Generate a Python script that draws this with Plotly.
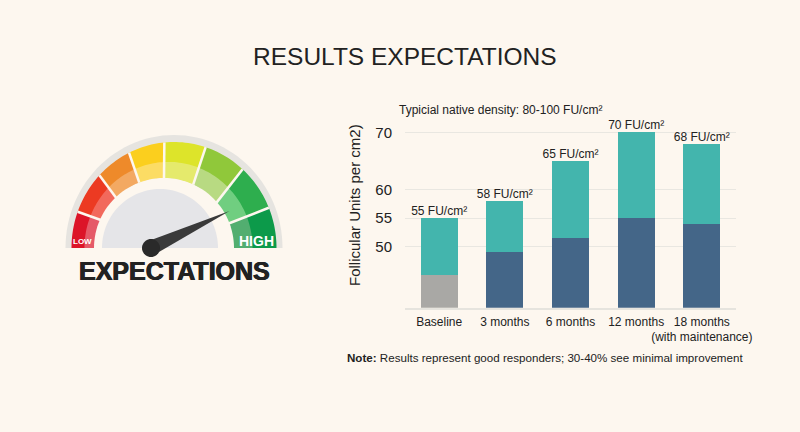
import math
import plotly.graph_objects as go

# Bar chart data
categories = ["Baseline", "3 months", "6 months", "12 months", "18 months<br>(with maintenance)"]
lower_segment = [45, 49, 51.5, 55, 54]
upper_segment = [10, 9, 13.5, 15, 14]
total_density = [55, 58, 65, 70, 68]
total_labels = ["55 FU/cm²", "58 FU/cm²", "65 FU/cm²", "70 FU/cm²", "68 FU/cm²"]
y_ticks = [50, 55, 60, 70]

# Gauge band: divider angles on the outer and inner arcs, left to right
outer_angles = [180, 160, 136.7, 116, 95.4, 72, 48, 22.3, 0]
inner_angles = [180, 156.4, 134, 111, 90, 65, 40.4, 20.5, 0]
band_dark = ["#dc1428", "#ec3a22", "#ee8a2a", "#fbcf1e", "#dde42a", "#90c83a", "#2eae4e", "#0c9a4a"]
band_light = ["#e55a68", "#f2695c", "#f3a962", "#fcdc64", "#e5ea6c", "#b8da82", "#70ce80", "#52ae70"]

BG = "#fdf7ef"
INK = "#222222"
W, H = 800, 432


def px(x):
    return x / W


def py(y):
    return 1 - y / H


def ellipse_point(cx, cy, rx, ry, deg):
    a = math.radians(deg)
    return cx + rx * math.cos(a), cy - ry * math.sin(a)


def outer_pt(deg):
    return ellipse_point(174, 248, 102.5, 106, deg)


def inner_pt(deg):
    return ellipse_point(164, 248, 69, 70, deg)


def mid_pt(o_deg, i_deg, t=0.55):
    ox, oy = outer_pt(o_deg)
    ix, iy = inner_pt(i_deg)
    return ox + (ix - ox) * t, oy + (iy - oy) * t


def steps(a, b, n=14):
    return [a + (b - a) * k / n for k in range(n + 1)]


def path_of(points):
    return "M " + " L ".join(f"{px(x):.5f},{py(y):.5f}" for x, y in points) + " Z"


def polygon(points, fill, line=None, width=0):
    return dict(type="path", xref="paper", yref="paper", path=path_of(points),
                fillcolor=fill, line=dict(color=line or fill, width=width), layer="above")


def half_disc(cx, cy, rx, ry, fill):
    return polygon([ellipse_point(cx, cy, rx, ry, d) for d in steps(180, 0, 60)], fill)


shapes = [half_disc(174, 248, 108.5, 113, "#e6e4e0")]

# Each band cell: darker outer part, lighter inner part
for k in range(8):
    oa, ob = outer_angles[k], outer_angles[k + 1]
    ia, ib = inner_angles[k], inner_angles[k + 1]
    ang_o = steps(oa, ob)
    ang_i = steps(ia, ib)
    outer = [outer_pt(d) for d in ang_o]
    inner = [inner_pt(d) for d in ang_i]
    mid = [mid_pt(o, i) for o, i in zip(ang_o, ang_i)]
    shapes.append(polygon(outer + inner[::-1], band_dark[k]))
    shapes.append(polygon(mid + inner[::-1], band_light[k]))

# Dividers between the band cells
for o, i in zip(outer_angles[1:-1], inner_angles[1:-1]):
    x0, y0 = outer_pt(o)
    x1, y1 = inner_pt(i)
    shapes.append(dict(type="line", xref="paper", yref="paper", layer="above",
                       x0=px(x0), y0=py(y0), x1=px(x1), y1=py(y1),
                       line=dict(color=BG, width=2.5)))

# Dial face inside the band
shapes.append(half_disc(164, 248, 70, 70, BG))
shapes.append(half_disc(160, 248, 58, 59, "#e5e5e8"))

# Needle and hub
hub_x, hub_y = 151, 248
tip_x, tip_y = 229.5, 211
dx, dy = tip_x - hub_x, tip_y - hub_y
n = math.hypot(dx, dy)
nx, ny = -dy / n * 7.5, dx / n * 7.5
shapes.append(polygon([(hub_x + nx, hub_y + ny), (tip_x, tip_y), (hub_x - nx, hub_y - ny)], "#3a3a3a"))
shapes.append(polygon([ellipse_point(hub_x, hub_y, 9, 9, d) for d in steps(0, 360, 40)], "#2a2a2a"))

fig = go.Figure()
fig.add_bar(x=categories, y=lower_segment,
            marker=dict(color=["#a9a8a5", "#446688", "#446688", "#446688", "#446688"], line_width=0),
            showlegend=False)
fig.add_bar(x=categories, y=upper_segment, marker=dict(color="#43b5ad", line_width=0), showlegend=False)
fig.add_scatter(x=categories, y=total_density, mode="text", text=total_labels,
                textposition="top center", textfont=dict(size=12, color=INK,
                                                          family="Liberation Sans"),
                showlegend=False, cliponaxis=False)


def note(text, x, y, size, color=INK, bold=False, anchor="center", angle=0, shadow=None):
    font = dict(size=size, color=color, family="Liberation Sans")
    if shadow:
        font["shadow"] = shadow
    return dict(text=f"<b>{text}</b>" if bold else text, x=px(x), y=py(y), xref="paper", yref="paper",
                showarrow=False, xanchor=anchor, yanchor="middle", textangle=angle, font=font)


annotations = [
    note("RESULTS EXPECTATIONS", 405, 56, 24.5),
    note("Typicial native density: 80-100 FU/cm²", 397, 110, 12, anchor="left"),
    note("<b>Note:</b> Results represent good responders; 30-40% see minimal improvement", 345, 357, 11.6, anchor="left"),
    note("Follicular Units per cm2)", 355, 205, 15, angle=-90),
    note("LOW", 82, 241, 8, color="#ffffff", bold=True),
    note("HIGH", 256, 241, 14, color="#ffffff", bold=True),
    note("EXPECTATIONS", 174.5, 271, 25, color="#222222", bold=True,
         shadow="0.5px 0 0 #222222, -0.5px 0 0 #222222"),
]

fig.update_layout(
    width=W, height=H, margin=dict(l=0, r=0, t=0, b=0, autoexpand=False),
    paper_bgcolor=BG, plot_bgcolor=BG, barmode="stack", bargap=0.44,
    shapes=shapes, annotations=annotations, showlegend=False,
    font=dict(family="Liberation Sans", color=INK),
    xaxis=dict(domain=[px(405), px(736)], range=[-0.52, 4.52], showline=True, linecolor="#e6e4de",
               linewidth=1.5, ticks="", tickfont=dict(size=12, color=INK), showgrid=False, tickangle=0,
               fixedrange=True, automargin=False, ticklabelstandoff=2),
    yaxis=dict(domain=[py(307.7), py(118)], range=[39.35, 72.5], tickvals=y_ticks,
               tickfont=dict(size=15, color=INK), showgrid=True, gridcolor="#e9e7e1", gridwidth=1,
               zeroline=False, ticks="", showline=False, fixedrange=True, automargin=False,
               ticklabelstandoff=12),
)

fig.write_html("out.html", config={"displayModeBar": False})
